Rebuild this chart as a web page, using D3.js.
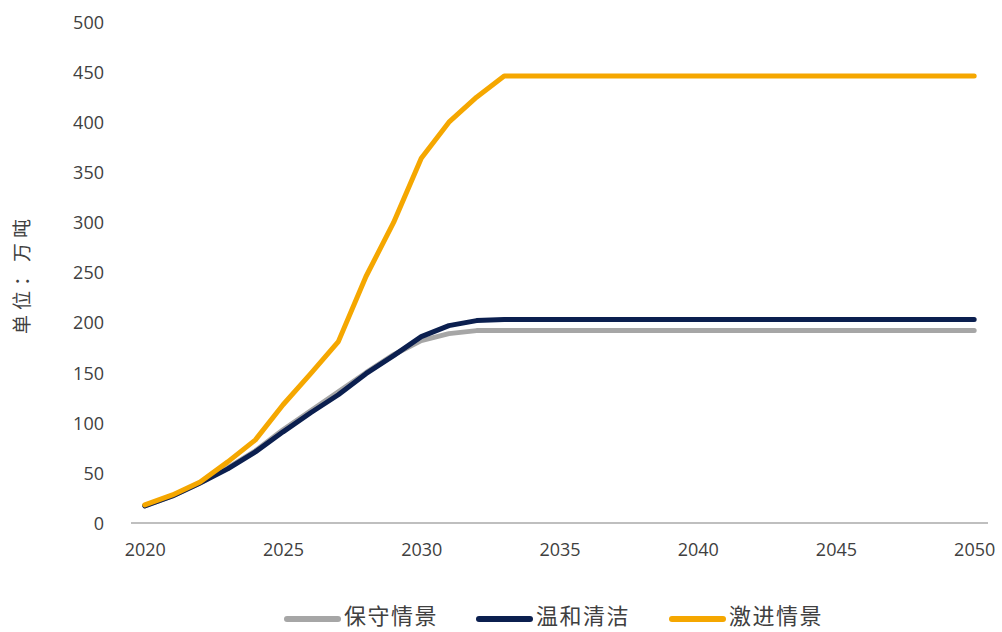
<!DOCTYPE html>
<html><head><meta charset="utf-8">
<script src="https://cdn.jsdelivr.net/npm/d3@7"></script>
<style>body{margin:0;background:#fff}svg{display:block}</style>
</head><body>
<svg id="c" width="1002" height="632"></svg>
<script>
const years = d3.range(2020, 2051);
const seriesNames = ["保守情景", "温和清洁", "激进情景"];
const colors = ["#A6A6A6", "#0B1F4F", "#F5A700"];
const conservative = [17,27,40,55,72,93,112,131,150,168,182,189,192,192,192,192,192,192,192,192,192,192,192,192,192,192,192,192,192,192,192];
const moderate     = [17,27,40,54,71,91,110,128,149,167,186,197,202,203,203,203,203,203,203,203,203,203,203,203,203,203,203,203,203,203,203];
const aggressive   = [18,28,41,61,83,118,149,181,246,300,364,400,425,446,446,446,446,446,446,446,446,446,446,446,446,446,446,446,446,446,446];
const yTicks = [0,50,100,150,200,250,300,350,400,450,500];
const xTicks = [2020,2025,2030,2035,2040,2045,2050];
const yLabel = "单位：万吨";

const svg = d3.select("#c");
const font = "'Open Sans','Noto Sans CJK SC',sans-serif";
const x = d3.scalePoint().domain(years).range([131, 988]).padding(0.5);
const y = d3.scaleLinear().domain([0, 500]).range([523, 22]);

// y axis labels
const ya = svg.append("g").attr("transform","translate(104,0)")
  .call(d3.axisLeft(y).tickValues(yTicks).tickSize(0).tickPadding(0));
ya.select(".domain").remove();
ya.selectAll("text").attr("font-family",font).attr("font-size",18).attr("fill","#404040").attr("dy","0.35em");

// x axis
const xa = svg.append("g").attr("transform","translate(0,523)")
  .call(d3.axisBottom(x).tickValues(xTicks).tickSize(0).tickPadding(20));
xa.select(".domain").attr("stroke","#BFBFBF").attr("stroke-width",2).attr("d","M131,0H988");
xa.selectAll("text").attr("font-family",font).attr("font-size",18).attr("fill","#404040");

svg.append("text").attr("transform","translate(22,274) rotate(-90)")
  .attr("text-anchor","middle").attr("dy","0.35em")
  .attr("font-family",font).attr("font-size",19).attr("letter-spacing",5).attr("fill","#404040").text(yLabel);

const line = d3.line().x((d,i)=>x(years[i])).y(d=>y(d));
[conservative, moderate, aggressive].forEach((s,i)=>{
  svg.append("path").attr("d",line(s)).attr("fill","none").attr("stroke",colors[i])
    .attr("stroke-width",5).attr("stroke-linejoin","round").attr("stroke-linecap","round");
});

// legend
const legX = [287, 479, 672];
seriesNames.forEach((n,i)=>{
  const g = svg.append("g").attr("transform",`translate(${legX[i]},619)`);
  g.append("line").attr("x1",0).attr("x2",51).attr("stroke",colors[i]).attr("stroke-width",6).attr("stroke-linecap","round");
  g.append("text").attr("x",57).attr("y",-3).attr("dy","0.36em").attr("font-family",font).attr("font-size",22).attr("letter-spacing",1.5).attr("fill","#404040").text(n);
});
</script>
</body></html>
